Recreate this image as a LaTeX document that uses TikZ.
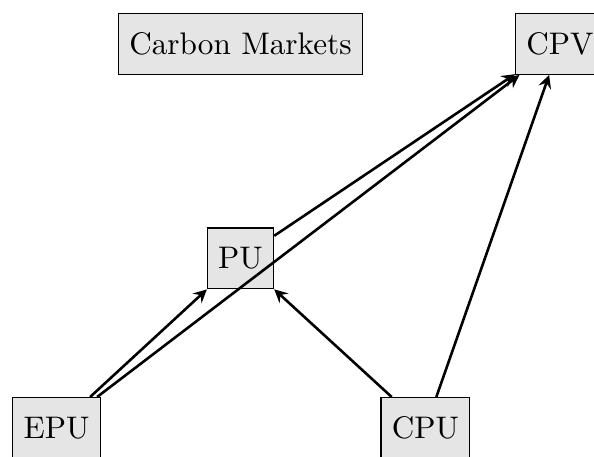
\documentclass[tikz,border=0pt]{standalone}
\usetikzlibrary{arrows}

\begin{document}
\begin{tikzpicture}[>=stealth,
    unit/.style={draw, fill=gray!20, minimum height=0.66cm,
        font=\fontsize{9.65}{11.6}\selectfont}]

    \useasboundingbox (0,0) rectangle (6.457,4.967);

%% units
    \node[unit] (markets) at (2.614,4.489) {Carbon Markets};
    \node[unit] (cpv) at (6.087,4.489) {CPV};
    \node[unit] (pu) at (2.614,2.158) {PU};
    \node[unit] (epu) at (0.614,0.315) {EPU};
    \node[unit] (cpu) at (4.625,0.315) {CPU};

%% links
    \draw[thick,->] (epu) to (pu);
    \draw[thick,->] (epu) to (cpv);
    \draw[thick,->] (pu) to (cpv);
    \draw[thick,->] (cpu) to (pu);
    \draw[thick,->] (cpu) to (cpv);

\end{tikzpicture}
\end{document}
